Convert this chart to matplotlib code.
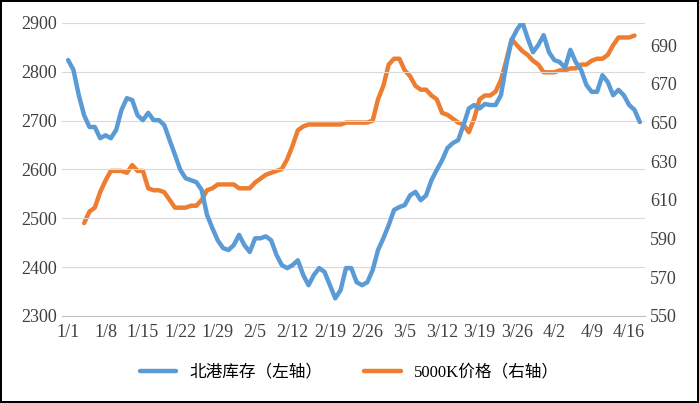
import matplotlib
matplotlib.use("Agg")
import matplotlib.pyplot as plt

plt.rcParams['font.family'] = ['Liberation Serif', 'Noto Sans CJK SC']

# day index from 1/1
port_days = list(range(0, 108))
port_stock = [2824, 2804, 2752, 2711, 2687, 2687, 2664, 2670, 2664, 2681,
              2722, 2746, 2742, 2711, 2701, 2716, 2701, 2701, 2691, 2660,
              2630, 2599, 2582, 2578, 2574, 2558, 2507, 2480, 2455, 2439,
              2435, 2445, 2466, 2445, 2431, 2459, 2459, 2463, 2455, 2425,
              2404, 2398, 2404, 2414, 2384, 2363, 2384, 2398, 2390, 2363,
              2336, 2353, 2398, 2398, 2369, 2363, 2369, 2394, 2435, 2459,
              2486, 2517, 2523, 2527, 2547, 2554, 2537, 2547, 2578, 2599,
              2619, 2644, 2654, 2660, 2691, 2725, 2732, 2725, 2734, 2732,
              2732, 2752, 2814, 2865, 2886, 2902, 2869, 2840, 2855, 2875,
              2840, 2824, 2820, 2808, 2845, 2820, 2804, 2773, 2759, 2759,
              2793, 2779, 2752, 2763, 2752, 2732, 2722, 2697]

price_days = list(range(3, 107))
price_5000k = [598, 604, 606, 614, 620, 625, 625, 625, 624, 628,
               625, 625, 616, 615, 615, 614, 610, 606, 606, 606,
               607, 607, 610, 615, 616, 618, 618, 618, 618, 616,
               616, 616, 619, 621, 623, 624, 625, 626, 631, 638,
               646, 648, 649, 649, 649, 649, 649, 649, 649, 650,
               650, 650, 650, 650, 651, 662, 669, 680, 683, 683,
               677, 674, 669, 667, 667, 664, 662, 655, 654, 652,
               650, 649, 645, 652, 662, 664, 664, 666, 672, 682,
               693, 690, 687, 685, 682, 680, 676, 676, 676, 677,
               677, 678, 678, 680, 680, 682, 683, 683, 685, 690,
               694, 694, 694, 695]

tick_days = [0, 7, 14, 21, 28, 35, 42, 49, 56, 63, 70, 77, 84, 91, 98, 105]
tick_labels = ['1/1', '1/8', '1/15', '1/22', '1/29', '2/5', '2/12', '2/19',
               '2/26', '3/5', '3/12', '3/19', '3/26', '4/2', '4/9', '4/16']

fig = plt.figure(figsize=(6.99, 4.03), dpi=100)
fig.patch.set_edgecolor('black')
fig.patch.set_linewidth(1.5)
ax = fig.add_axes([0.089, 0.216, 0.834, 0.727])
ax2 = ax.twinx()

l1, = ax.plot(port_days, port_stock, color='#5B9BD5', lw=3.2,
              solid_capstyle='round', label='北港库存（左轴）')
l2, = ax2.plot(price_days, price_5000k, color='#ED7D31', lw=3.2,
               solid_capstyle='round', label='5000K价格（右轴）')

ax.set_xlim(-1.1, 108)
ax.set_ylim(2300, 2900)
ax.set_yticks(range(2300, 2901, 100))
ax2.set_ylim(550, 701.5)
ax2.set_yticks(range(550, 691, 20))
ax.set_xticks(tick_days)
ax.set_xticklabels(tick_labels)
ax.grid(axis='y', color='#D9D9D9', lw=0.8)
ax.set_axisbelow(True)
ax.set_zorder(ax2.get_zorder() + 1)
ax.patch.set_visible(False)

for a in (ax, ax2):
    for s in ('top', 'right', 'left'):
        a.spines[s].set_visible(False)
    a.tick_params(length=0, labelsize=13, colors='#404040')
ax.spines['bottom'].set_visible(False)
ax2.spines['bottom'].set_color('#BFBFBF')
ax.tick_params(axis='x', pad=6)
ax.tick_params(axis='y', pad=4)

fig.legend(handles=[l1, l2], loc='center', bbox_to_anchor=(0.5, 0.075), ncol=2,
           frameon=False, prop={'family': ['Liberation Serif', 'Noto Sans CJK SC'], 'size': 12},
           handlelength=2.2, columnspacing=2.5)

fig.savefig('out.png', dpi=100, edgecolor=fig.get_edgecolor())
